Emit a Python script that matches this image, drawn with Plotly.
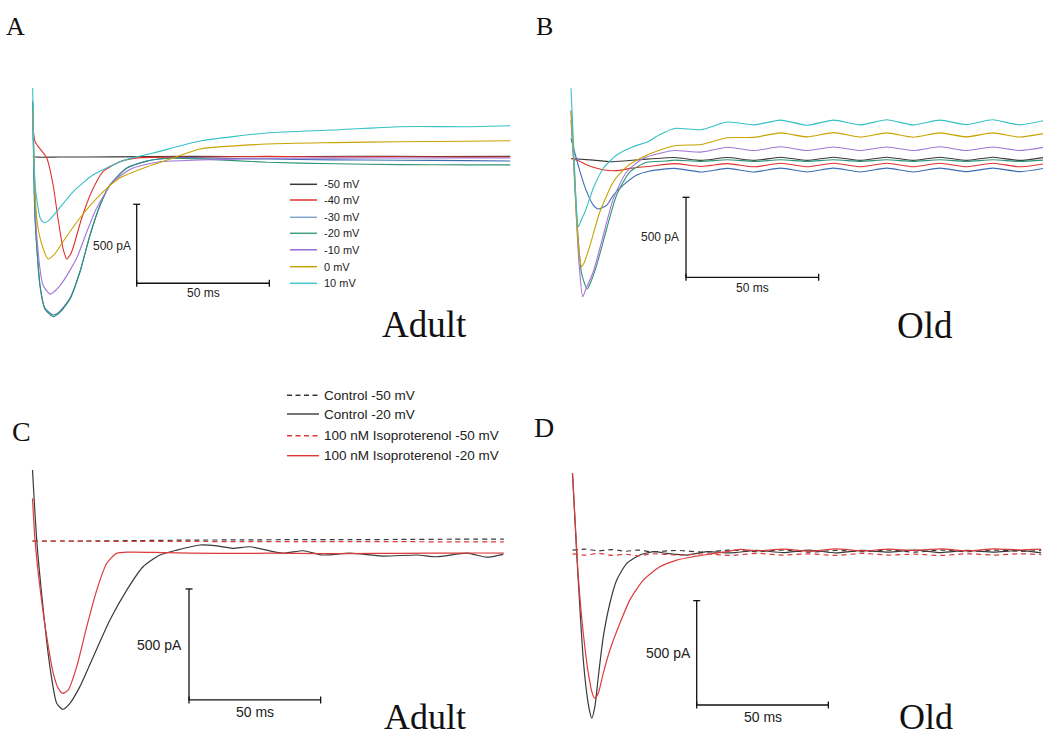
import plotly.graph_objects as go

W, H = 1043, 737

# ================= DATA (time in ms, current in pA) =================
# ---- Panel A : Adult, step potentials ----
A_m50_t = [0, 2, 10, 30, 60, 90, 120, 150, 180]
A_m50_i = [0, -3, -2, -1, 2, 0, 3, 1, 2]
A_m40_t = [0, 0.9, 5.3, 7.7, 9.5, 11.4, 12.8, 14.1, 15.2, 18.5, 22.2, 26.5, 32.8, 40.4, 63.1, 88.4, 113.2, 138.5, 163.7, 180]
A_m40_i = [232, 95, -8, -179, -388, -578, -647, -622, -578, -388, -222, -95, -32, -6, -3, 2, -2, 0, -3, -2]
A_m30_t = [0, 0.9, 2.75, 4.6, 7.7, 10.3, 14.1, 17.8, 21.6, 25.4, 29.1, 35.4, 43, 51.8, 63.1, 88.4, 113.2, 138.5, 163.7, 180]
A_m30_i = [350, -388, -812, -958, -1002, -977, -894, -728, -495, -306, -179, -72, -27, -8, -8, -15, -20, -22, -25, -27]
A_m20_t = [0, 0.9, 2.75, 4.6, 7.7, 10.3, 14.1, 17.8, 21.6, 25.4, 29.1, 35.4, 43, 51.8, 63.1, 88.4, 113.2, 138.5, 163.7, 180]
A_m20_i = [350, -395, -820, -965, -1012, -985, -900, -730, -498, -308, -180, -74, -28, -10, -14, -35, -45, -50, -52, -52]
A_m10_t = [0, 1.5, 3.9, 6.5, 8.4, 11.4, 16.6, 20.4, 24.1, 30.3, 37.8, 48, 63.1, 88.4, 113.2, 138.5, 163.7, 180]
A_m10_i = [295, -495, -812, -869, -850, -791, -641, -475, -325, -158, -72, -32, -21, -11, -9, -8, -8, -8]
A_0_t = [0, 1.5, 3.5, 5.9, 8, 11.4, 17.8, 25.4, 32.8, 43.2, 51.8, 63.1, 88.4, 113.2, 138.5, 163.7, 180]
A_0_i = [295, -388, -559, -647, -622, -538, -388, -242, -135, -63, -15, 49, 80, 89, 95, 98, 101]
A_p10_t = [0, 0.9, 2.8, 3.8, 4.6, 6, 9.0, 15.2, 22.7, 32.8, 37.8, 45.4, 63.1, 88.4, 113.2, 138.5, 163.7, 180]
A_p10_i = [435, -179, -388, -412, -418, -405, -348, -222, -116, -34, -6, 23, 99, 150, 169, 190, 190, 196]

# ---- Panel B : Old, step potentials ----
B_m50_t = [0, 8.4, 15, 21, 27, 39, 49, 59, 69, 79, 89, 99, 109, 119, 129, 139, 149, 159, 169, 178]
B_m50_i = [0, -10, -20, -14, -6, 6, -12, 6, -12, 8, -12, 8, -12, 8, -12, 8, -12, 8, -12, 6]
B_m40_t = [0, 3, 6, 12, 17, 23, 30, 39, 49, 59, 69, 79, 89, 99, 109, 119, 129, 139, 149, 159, 169, 178]
B_m40_i = [0, -15, -40, -70, -76, -60, -48, -32, -50, -32, -52, -30, -52, -30, -52, -30, -52, -30, -52, -30, -52, -34]
B_m30_t = [0, 3.4, 5.9, 8.4, 10.3, 13.5, 16, 19.7, 24.8, 29.8, 39, 49, 59, 69, 79, 89, 99, 109, 119, 129, 139, 149, 159, 169, 178]
B_m30_i = [126, -82, -207, -291, -316, -291, -228, -166, -103, -78, -62, -84, -62, -84, -60, -84, -60, -84, -60, -84, -60, -82, -60, -82, -62]
B_m20_t = [0, 1, 2.5, 4, 6.1, 7.5, 9.7, 13.5, 17.2, 22.2, 28.5, 36, 39, 49, 59, 69, 79, 89, 99, 109, 119, 129, 139, 149, 159, 169, 178]
B_m20_i = [240, 0, -450, -720, -816, -770, -666, -436, -228, -83, -24, -16, -10, -18, -8, -18, -8, -18, -8, -18, -8, -18, -8, -18, -8, -18, -10]
B_m10_t = [0, 1.5, 3, 4.4, 5.5, 8.4, 12.2, 16, 21, 27.3, 33.5, 39, 49, 59, 69, 79, 89, 99, 109, 119, 129, 139, 149, 159, 169, 178]
B_m10_i = [300, -200, -650, -864, -820, -708, -478, -249, -83, 1, 33, 50, 40, 70, 50, 73, 50, 72, 50, 72, 50, 73, 50, 72, 50, 70]
B_0_t = [0, 1, 2, 3, 4, 5, 7.2, 10.9, 16, 21, 27.3, 33.5, 39, 49, 59, 69, 79, 89, 99, 109, 119, 129, 139, 149, 159, 169, 178]
B_0_i = [300, 0, -350, -580, -676, -650, -541, -333, -145, -51, 11, 53, 80, 88, 130, 132, 160, 135, 162, 134, 160, 133, 160, 135, 160, 134, 156]
B_p10_t = [0, 1.2, 2.0, 2.75, 4.0, 5.3, 8.4, 12.2, 17.2, 23.4, 29, 33.5, 39, 49, 59, 69, 79, 89, 99, 109, 119, 129, 139, 149, 159, 169, 178]
B_p10_i = [439, 0, -300, -426, -380, -333, -186, -61, 22, 74, 105, 150, 188, 180, 228, 210, 240, 208, 240, 210, 242, 210, 240, 212, 242, 210, 236]

# ---- Panel C : Adult, control vs isoproterenol ----
C_ctl50_t = [0, 20, 40, 60, 80, 100, 120, 140, 160, 179]
C_ctl50_i = [0, 0, 2, 4, 5, 6, 6, 7, 8, 8]
C_ctl20_t = [0, 1.6, 4.1, 6.6, 9.2, 11.5, 14.2, 18, 23.1, 29.4, 35.8, 42, 48.4, 54.8, 63.6, 70, 76, 82.6, 95, 102.8, 110, 120.6, 133, 146, 153.5, 165, 172.5, 178.8]
C_ctl20_i = [320, 5, -311, -566, -731, -758, -731, -656, -521, -356, -221, -116, -63, -41, -18, -22, -33, -26, -55, -44, -63, -55, -68, -63, -71, -55, -73, -60]
C_iso50_t = [0, 20, 40, 60, 80, 100, 120, 140, 160, 179]
C_iso50_i = [0, -1, -2, -2, -3, -3, -3, -3, -4, -4]
C_iso20_t = [0, 0.95, 2.8, 5.4, 7.9, 9.8, 11.5, 13.6, 16.8, 20.6, 24.4, 28.2, 32, 37, 50, 70, 90, 110, 130, 150, 170, 179]
C_iso20_i = [192, 5, -206, -431, -596, -664, -686, -671, -566, -386, -221, -100, -55, -50, -52, -56, -55, -57, -56, -55, -54, -55]

# ---- Panel D : Old, control vs isoproterenol ----
D_ctl50_t = [0, 5, 10, 15, 20, 25, 30, 40, 50, 60, 70, 80, 90, 100, 110, 120, 130, 140, 150, 160, 170, 178]
D_ctl50_i = [8, 12, 4, 10, 2, 8, 0, 6, -2, 8, 0, 8, -2, 6, 0, 8, -2, 8, 0, 8, 2, 6]
D_ctl20_t = [0, 1.6, 2.85, 4.1, 5.4, 6.4, 7.3, 8.5, 9.8, 11.7, 14.2, 16.8, 20.6, 25.6, 30.7, 35.8, 43.4, 51, 60, 70, 80, 90, 100, 110, 120, 130, 140, 150, 160, 170, 178]
D_ctl20_i = [376, -8, -279, -519, -678, -758, -798, -742, -599, -407, -247, -136, -56, -16, 0, -8, -16, 0, -6, 6, -4, 8, -6, 6, -2, 8, -4, 6, -2, 6, -6]
D_iso50_t = [0, 5, 10, 15, 20, 25, 30, 40, 50, 60, 70, 80, 90, 100, 110, 120, 130, 140, 150, 160, 170, 178]
D_iso50_i = [-10, -16, -8, -18, -12, -20, -10, -16, -10, -18, -8, -16, -10, -18, -8, -16, -12, -18, -10, -16, -10, -14]
D_iso20_t = [0, 1.2, 2.2, 4.1, 6, 7.7, 8.5, 9.8, 11.7, 14.2, 18, 21.8, 26.9, 33.2, 39.6, 45.9, 52.2, 58.6, 63.6, 70, 80, 90, 100, 110, 120, 130, 140, 150, 160, 170, 178]
D_iso20_i = [376, 100, -120, -391, -582, -686, -702, -678, -582, -471, -343, -231, -136, -72, -40, -24, -11, 0, 11, 4, 12, 2, 14, 4, 12, 6, 14, 4, 14, 8, 12]

# Scale bars
SCALE_MS = 50
SCALE_PA = 500
STEP_LABELS = ["-50 mV", "-40 mV", "-30 mV", "-20 mV", "-10 mV", "0 mV", "10 mV"]
DRUG_LABELS = ["Control -50 mV", "Control -20 mV", "100 nM Isoproterenol -50 mV", "100 nM Isoproterenol -20 mV"]

# ================= LAYOUT / STYLE =================
STEP_COLORS = ["#3a3a3a", "#e0302c", "#3d6db5", "#2f9478", "#a274d8", "#c9a300", "#35c0c6"]
STEP_LEG_COLORS = ["#3a3a3a", "#e0302c", "#7fa6cf", "#3f9e86", "#9b6ad6", "#c9a300", "#40c8cc"]
DRUG_COLORS = ["#3a3a3a", "#3a3a3a", "#dd3b3b", "#dd3b3b"]
DRUG_DASH = ["5px,4px", "solid", "5px,4px", "solid"]

PANELS = {
    "A": dict(ax="", x0=32.7, sx=2.653, y0=156.7, sy=0.158, box=(15, 530, 60, 345),
              bar=(39.2, -801), lbl_fs=12, pa_dx=-4, pa_dy=-2, ms_dy=-10),
    "B": dict(ax="2", x0=571.0, sx=2.653, y0=158.5, sy=0.160, box=(545, 1043, 60, 345),
              bar=(43.35, -742.5), lbl_fs=12, pa_dx=-5, pa_dy=0, ms_dy=-11),
    "C": dict(ax="3", x0=32.5, sx=2.633, y0=541.0, sy=0.222, box=(15, 530, 455, 737),
              bar=(59.44, -716), lbl_fs=14, pa_dx=-5, pa_dy=-1, ms_dy=-12),
    "D": dict(ax="4", x0=572.5, sx=2.633, y0=551.7, sy=0.2087, box=(545, 1043, 455, 737),
              bar=(47.17, -734.5), lbl_fs=14, pa_dx=-4, pa_dy=0, ms_dy=-12),
}

SANS = "Liberation Sans, Arial, sans-serif"
SERIF = "Liberation Serif, Times New Roman, serif"

fig = go.Figure()


def add_trace(panel, t, i, color, dash="solid", width=1.1):
    ax = PANELS[panel]["ax"]
    fig.add_trace(go.Scatter(
        x=t, y=i, mode="lines",
        line=dict(color=color, width=width, dash=dash, shape="spline", smoothing=0.6),
        xaxis="x" + ax, yaxis="y" + ax, hoverinfo="skip", showlegend=False))


A_series = [(A_m50_t, A_m50_i), (A_m40_t, A_m40_i), (A_m30_t, A_m30_i), (A_m20_t, A_m20_i),
            (A_m10_t, A_m10_i), (A_0_t, A_0_i), (A_p10_t, A_p10_i)]
B_series = [(B_m50_t, B_m50_i), (B_m40_t, B_m40_i), (B_m30_t, B_m30_i), (B_m20_t, B_m20_i),
            (B_m10_t, B_m10_i), (B_0_t, B_0_i), (B_p10_t, B_p10_i)]
C_series = [(C_ctl50_t, C_ctl50_i), (C_ctl20_t, C_ctl20_i), (C_iso50_t, C_iso50_i), (C_iso20_t, C_iso20_i)]
D_series = [(D_ctl50_t, D_ctl50_i), (D_ctl20_t, D_ctl20_i), (D_iso50_t, D_iso50_i), (D_iso20_t, D_iso20_i)]

for (t, i), c in zip(A_series, STEP_COLORS):
    add_trace("A", t, i, c)
for (t, i), c in zip(B_series, STEP_COLORS):
    add_trace("B", t, i, c)
for (t, i), c, d in zip(C_series, DRUG_COLORS, DRUG_DASH):
    add_trace("C", t, i, c, d, 1.2)
for (t, i), c, d in zip(D_series, DRUG_COLORS, DRUG_DASH):
    add_trace("D", t, i, c, d, 1.2)

annotations = []
layout_axes = {}
for name, p in PANELS.items():
    L, R, T, B = p["box"]
    ax = p["ax"]
    layout_axes["xaxis" + ax] = dict(
        domain=[L / W, R / W], range=[(L - p["x0"]) / p["sx"], (R - p["x0"]) / p["sx"]],
        visible=False, fixedrange=True, anchor="y" + ax)
    layout_axes["yaxis" + ax] = dict(
        domain=[1 - B / H, 1 - T / H], range=[(p["y0"] - B) / p["sy"], (p["y0"] - T) / p["sy"]],
        visible=False, fixedrange=True, anchor="x" + ax)
    bx, by = p["bar"]
    fig.add_trace(go.Scatter(
        x=[bx, bx, bx + SCALE_MS], y=[by + SCALE_PA, by, by], mode="lines+markers",
        line=dict(color="#111111", width=1.3),
        marker=dict(symbol=["line-ew", "line-ns", "line-ns"], size=5,
                    line=dict(color="#111111", width=1.3)),
        xaxis="x" + ax, yaxis="y" + ax, hoverinfo="skip", showlegend=False))
    annotations.append(dict(x=bx, y=by + SCALE_PA / 2, xref="x" + ax, yref="y" + ax,
                            text=f"{SCALE_PA} pA", showarrow=False, xanchor="right", yanchor="middle",
                            xshift=p["pa_dx"], yshift=p["pa_dy"],
                            font=dict(family=SANS, size=p["lbl_fs"], color="#222222")))
    annotations.append(dict(x=bx + SCALE_MS / 2, y=by, xref="x" + ax, yref="y" + ax,
                            text=f"{SCALE_MS} ms", showarrow=False, xanchor="center", yanchor="middle",
                            yshift=p["ms_dy"],
                            font=dict(family=SANS, size=p["lbl_fs"], color="#222222")))


def pannot(text, px, py, size, family, xanchor="center", color="#111111"):
    annotations.append(dict(x=px / W, y=1 - py / H, xref="paper", yref="paper", text=text,
                            showarrow=False, xanchor=xanchor, yanchor="middle",
                            font=dict(family=family, size=size, color=color)))


# panel letters and group labels
pannot("A", 15, 27, 26, SERIF)
pannot("B", 544, 27, 26, SERIF)
pannot("C", 21.7, 431, 28, SERIF)
pannot("D", 544, 427, 28, SERIF)
pannot("Adult", 424.2, 324.2, 37, SERIF)
pannot("Old", 925, 325, 37, SERIF)
pannot("Adult", 424.7, 716.5, 36, SERIF)
pannot("Old", 925.5, 716.5, 36, SERIF)

shapes = []
# legend for panel A
legA_rows = [184.3, 200, 217.3, 233.3, 249.8, 266.7, 283.3]
for lab, c, yy in zip(STEP_LABELS, STEP_LEG_COLORS, legA_rows):
    shapes.append(dict(type="line", xref="paper", yref="paper", x0=290 / W, x1=317 / W,
                       y0=1 - yy / H, y1=1 - yy / H, line=dict(color=c, width=1.5)))
    pannot(lab, 321.5, yy, 11, SANS, xanchor="left", color="#222222")

# legend for panel C
legC_rows = [395.3, 414, 435.7, 455.7]
for lab, c, d, yy in zip(DRUG_LABELS, DRUG_COLORS, DRUG_DASH, legC_rows):
    shapes.append(dict(type="line", xref="paper", yref="paper", x0=287 / W, x1=319 / W,
                       y0=1 - yy / H, y1=1 - yy / H,
                       line=dict(color=c, width=1.4, dash="5px,3.5px" if d != "solid" else "solid")))
    pannot(lab, 322, yy, 13.5, SANS, xanchor="left", color="#222222")

fig.update_layout(
    width=W, height=H, autosize=False,
    margin=dict(l=0, r=0, t=0, b=0, pad=0),
    paper_bgcolor="white", plot_bgcolor="rgba(0,0,0,0)",
    showlegend=False, annotations=annotations, shapes=shapes,
    **layout_axes)

fig.write_html("out.html", config={"displayModeBar": False},
               post_script="document.body.style.margin='0';document.body.style.overflow='hidden';")
